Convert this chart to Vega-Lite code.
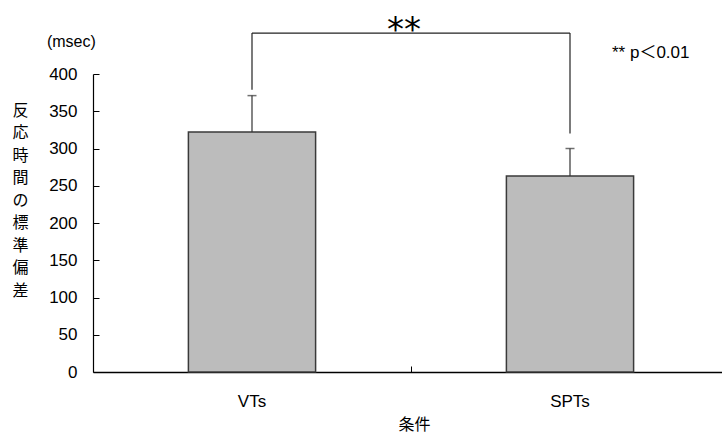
{
  "$schema": "https://vega.github.io/schema/vega-lite/v6.json",
  "width": 636,
  "height": 298,
  "autosize": {"type": "none"},
  "padding": {"left": 93, "top": 74, "right": 0, "bottom": 63},
  "background": "white",
  "config": {
    "view": {"stroke": null},
    "font": "Liberation Sans, Noto Sans CJK JP",
    "axis": {"labelColor": "#000", "titleColor": "#000", "domainColor": "#000", "tickColor": "#000", "grid": false},
    "axisY": {
      "labelOverlap": false, "labelFontSize": 17, "labelPadding": 22, "tickSize": -6, "domainWidth": 1.2, "tickWidth": 1,
      "titleAngle": 0, "titleX": -73, "titleY": 28, "titleAlign": "center", "titleBaseline": "top",
      "titleLineHeight": 22.5, "titleFont": "Noto Sans CJK JP", "titleFontSize": 16, "titleFontWeight": "normal"
    }
  },
  "datasets": {
    "bars": [
      {"cond": "VTs", "y": 322, "err": 371},
      {"cond": "SPTs", "y": 263, "err": 300}
    ],
    "caps": [
      {"cond": "VTs", "y": 371},
      {"cond": "SPTs", "y": 300}
    ],
    "bracket": [
      {"from": "VTs", "to": "SPTs", "y": 455, "high": 455},
      {"from": "VTs", "to": "VTs", "y": 379, "high": 455},
      {"from": "SPTs", "to": "SPTs", "y": 320, "high": 455}
    ],
    "star": [{"cond": "VTs", "y": 467, "label": "**"}],
    "unit": [{"cond": "VTs", "y": 443, "label": "(msec)"}],
    "note": [{"cond": "SPTs", "y": 428, "label": "** p＜0.01"}]
  },
  "encoding": {
    "y": {
      "field": "y", "type": "quantitative",
      "scale": {"domain": [0, 400], "nice": false},
      "axis": {
        "values": [0, 50, 100, 150, 200, 250, 300, 350, 400],
        "title": ["反", "応", "時", "間", "の", "標", "準", "偏", "差"]
      }
    }
  },
  "layer": [
    {
      "data": {"name": "bars"},
      "mark": {"type": "bar", "fill": "#bcbcbc", "stroke": "#3a3a3a", "strokeWidth": 1.5},
      "encoding": {
        "x": {
          "field": "cond", "type": "nominal",
          "scale": {"domain": ["VTs", "SPTs"], "paddingInner": 0.6, "paddingOuter": 0.3},
          "axis": {
            "title": "条件", "titleFont": "Noto Sans CJK JP", "titleFontSize": 16, "titleFontWeight": "normal",
            "titleX": 321, "titleY": 44, "titleBaseline": "top", "titleAnchor": null,
            "labelAngle": 0, "labelFontSize": 17, "labelPadding": 27, "tickSize": -6,
            "bandPosition": 1.75, "domainWidth": 1.5, "tickWidth": 1
          }
        }
      }
    },
    {
      "data": {"name": "bars"},
      "mark": {"type": "rule", "color": "#333", "strokeWidth": 1.2},
      "encoding": {
        "x": {"field": "cond", "type": "nominal"},
        "y2": {"field": "err"}
      }
    },
    {
      "data": {"name": "caps"},
      "mark": {"type": "tick", "color": "#333", "size": 9, "thickness": 1.5, "orient": "horizontal"},
      "encoding": {
        "x": {"field": "cond", "type": "nominal"}
      }
    },
    {
      "data": {"name": "bracket"},
      "mark": {"type": "rule", "color": "#222", "strokeWidth": 1.2},
      "encoding": {
        "x": {"field": "from", "type": "nominal"},
        "x2": {"field": "to"},
        "y2": {"field": "high"}
      }
    },
    {
      "data": {"name": "star"},
      "mark": {"type": "text", "font": "DejaVu Sans", "fontSize": 34, "baseline": "top", "align": "center", "dx": -7, "dy": -10, "color": "#000"},
      "encoding": {
        "x": {"field": "cond", "type": "nominal", "bandPosition": 1.75},
        "text": {"field": "label"}
      }
    },
    {
      "data": {"name": "unit"},
      "mark": {"type": "text", "fontSize": 16, "baseline": "middle", "align": "left", "color": "#000"},
      "encoding": {
        "x": {"field": "cond", "type": "nominal", "bandPosition": -1.112},
        "text": {"field": "label"}
      }
    },
    {
      "data": {"name": "note"},
      "mark": {"type": "text", "fontSize": 17, "baseline": "middle", "align": "left", "color": "#000"},
      "encoding": {
        "x": {"field": "cond", "type": "nominal", "bandPosition": 0.83},
        "text": {"field": "label"}
      }
    }
  ]
}
